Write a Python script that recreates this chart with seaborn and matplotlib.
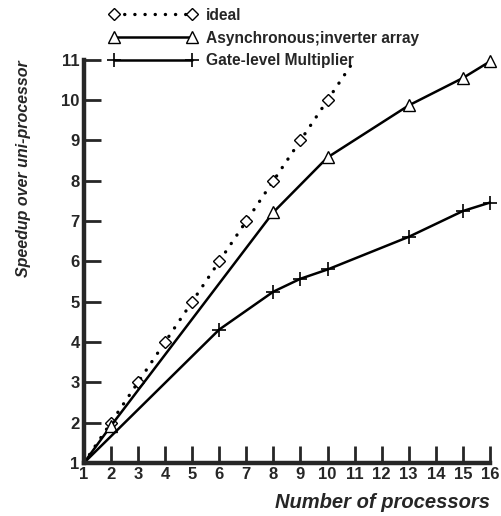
import pandas as pd
import seaborn as sns
import matplotlib.pyplot as plt

# данные
ideal_x = [1, 2, 3, 4, 5, 6, 7, 8, 9, 10, 11]
ideal_y = [1, 2, 3, 4, 5, 6, 7, 8, 9, 10, 11]

async_x = [1, 2, 8, 10, 13, 15, 16]
async_y = [1, 1.92, 7.22, 8.58, 9.87, 10.55, 10.96]

gate_x = [1, 6, 8, 9, 10, 13, 15, 16]
gate_y = [1, 4.31, 5.25, 5.57, 5.8, 6.61, 7.25, 7.46]

x_ticks = list(range(1, 17))
y_ticks = list(range(1, 12))

sns.set_style('ticks')
plt.rcParams['font.family'] = ['Liberation Sans', 'DejaVu Sans']
plt.rcParams['font.weight'] = 'bold'

fig = plt.figure(figsize=(5.02, 5.16), dpi=100)
ax = fig.add_axes([0.167, 0.1027, 0.809, 0.7813])

sns.lineplot(x=ideal_x, y=ideal_y, ax=ax, color='black', linestyle=(0, (0.05, 3.0)),
             linewidth=2.4, marker='D', markersize=6, markerfacecolor='white',
             markeredgecolor='black', markeredgewidth=1, markevery=list(range(1, 10)),
             label='ideal', dash_capstyle='round')
sns.lineplot(x=async_x, y=async_y, ax=ax, color='black', linewidth=1.8,
             marker='^', markersize=8, markerfacecolor='white',
             markeredgecolor='black', markeredgewidth=1, markevery=list(range(1, 7)),
             label='Asynchronous;inverter array')
sns.lineplot(x=gate_x, y=gate_y, ax=ax, color='black', linewidth=1.8,
             marker='+', markersize=10, markeredgewidth=1.2, markeredgecolor='black',
             markevery=list(range(1, 8)), label='Gate-level Multiplier')

ax.set_xlim(1, 16)
ax.set_ylim(1, 11)
ax.set_xticks(x_ticks)
ax.set_yticks(y_ticks)
ax.tick_params(axis='both', direction='in', length=12, width=2, labelsize=12, pad=3)
for lab in ax.get_xticklabels() + ax.get_yticklabels():
    lab.set_fontweight('bold')
sns.despine(ax=ax)
for s in ['left', 'bottom']:
    ax.spines[s].set_linewidth(3.2)
for ln in ax.get_lines():
    ln.set_clip_on(False)

ax.set_xlabel('Number of processors', fontsize=14.5, fontweight='bold',
              fontstyle='italic', loc='right', labelpad=8)
ax.set_ylabel('Speedup over uni-processor', fontsize=11.5, fontweight='bold',
              fontstyle='italic', loc='top', labelpad=22)

ax.legend_.remove()
handles, labels = ax.get_legend_handles_labels()
leg = fig.legend(handles, labels, loc='upper left', bbox_to_anchor=(0.19, 1.012),
                 frameon=False, numpoints=2, handlelength=5.6, handletextpad=0.6,
                 labelspacing=0.5, fontsize=11.2)
for h in leg.legend_handles:
    h.set_markevery(None)

fig.savefig('out.png', dpi=100)
